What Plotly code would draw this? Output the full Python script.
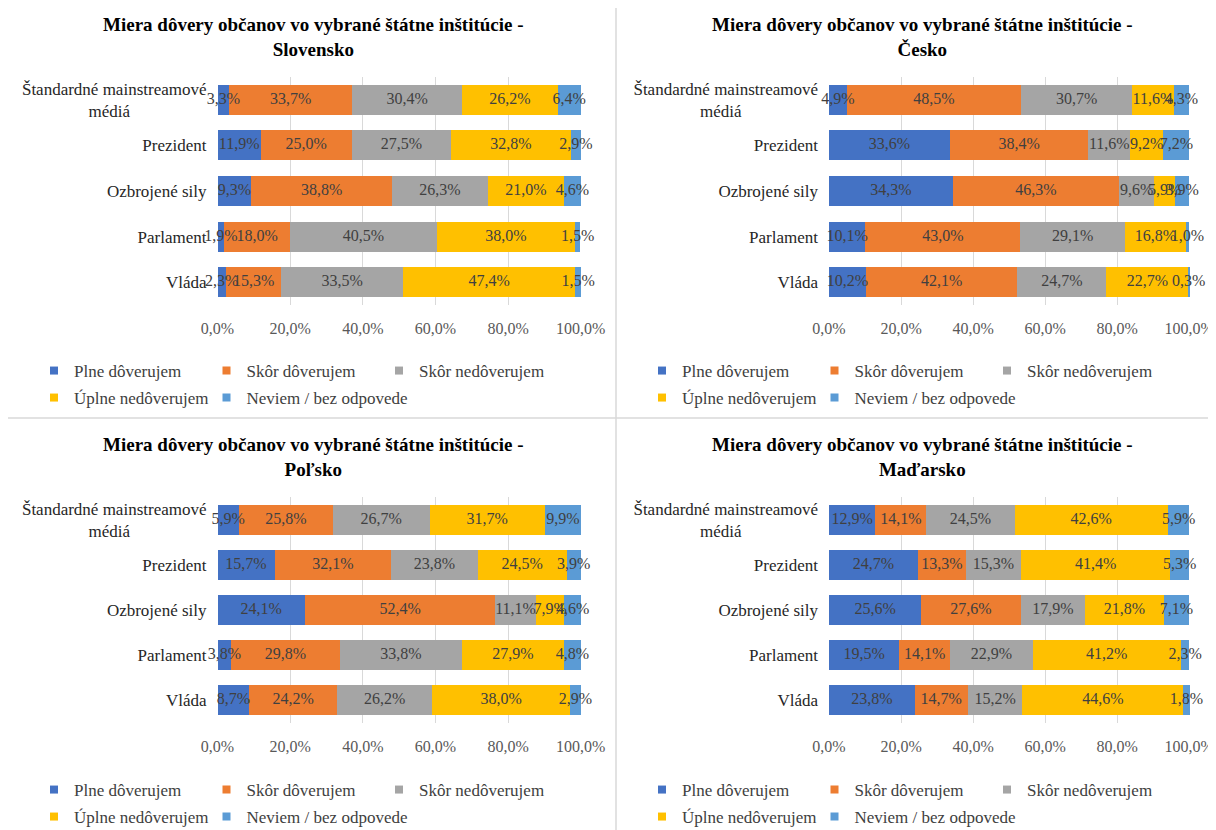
import plotly.graph_objects as go

# inštitúcie (zhora nadol)
institucie = ["Štandardné mainstreamové<br>médiá" + "\u00a0" * 18,
              "Prezident", "Ozbrojené sily", "Parlament", "Vláda"]

odpovede = ["Plne dôverujem", "Skôr dôverujem", "Skôr nedôverujem",
            "Úplne nedôverujem", "Neviem / bez odpovede"]
farby = ["#4472C4", "#ED7D31", "#A5A5A5", "#FFC000", "#5B9BD5"]

krajiny = ["Slovensko", "Česko", "Poľsko", "Maďarsko"]

# hodnoty v % pre každú odpoveď, poradie ako v institucie
slovensko = [
    [3.3, 11.9, 9.3, 1.9, 2.3],
    [33.7, 25.0, 38.8, 18.0, 15.3],
    [30.4, 27.5, 26.3, 40.5, 33.5],
    [26.2, 32.8, 21.0, 38.0, 47.4],
    [6.4, 2.9, 4.6, 1.5, 1.5],
]
cesko = [
    [4.9, 33.6, 34.3, 10.1, 10.2],
    [48.5, 38.4, 46.3, 43.0, 42.1],
    [30.7, 11.6, 9.6, 29.1, 24.7],
    [11.6, 9.2, 5.9, 16.8, 22.7],
    [4.3, 7.2, 3.9, 1.0, 0.3],
]
polsko = [
    [5.9, 15.7, 24.1, 3.8, 8.7],
    [25.8, 32.1, 52.4, 29.8, 24.2],
    [26.7, 23.8, 11.1, 33.8, 26.2],
    [31.7, 24.5, 7.9, 27.9, 38.0],
    [9.9, 3.9, 4.6, 4.8, 2.9],
]
madarsko = [
    [12.9, 24.7, 25.6, 19.5, 23.8],
    [14.1, 13.3, 27.6, 14.1, 14.7],
    [24.5, 15.3, 17.9, 22.9, 15.2],
    [42.6, 41.4, 21.8, 41.2, 44.6],
    [5.9, 5.3, 7.1, 2.3, 1.8],
]
data = [slovensko, cesko, polsko, madarsko]

# stránka má okraj 8 px, graf preto siaha od 8 px po pravý a dolný okraj okna
OFS = 8
W, H = 1208, 822
SERIF = "Liberation Serif"


def fx(px):
    return (px - OFS) / W


def fy(py):
    return 1 - (py - OFS) / H


# rozloženie panelov v pixeloch obrazovky:
# (x0, x1, ytop, ybottom, title_x, title_y, legend_y1, legend_y2, legend_x)
panely = [
    (217.5, 581.5, 77, 305, 313, 37, 371, 398, 34),
    (829, 1190, 77, 305, 922, 37, 371, 398, 642),
    (217.5, 581.5, 497, 723, 313, 457, 790, 817, 34),
    (829, 1190, 497, 723, 922, 457, 790, 817, 642),
]
KROK_LEGENDY = 172.5

fig = go.Figure()
layout = dict(
    width=W, height=H, margin=dict(l=0, r=0, t=0, b=0, autoexpand=False),
    paper_bgcolor="white", plot_bgcolor="white",
    barmode="stack", bargap=0.34, separators=", ",
    font=dict(family=SERIF, color="#404040"),
    annotations=[], shapes=[],
)

for p, (krajina, hodnoty) in enumerate(zip(krajiny, data)):
    x0, x1, yt, yb, tx, ty, ly1, ly2, lx = panely[p]
    sfx = "" if p == 0 else str(p + 1)
    xa, ya = "x" + sfx, "y" + sfx

    for i, (nazov, farba) in enumerate(zip(odpovede, farby)):
        fig.add_trace(go.Bar(
            y=institucie, x=hodnoty[i], orientation="h", name=nazov,
            marker=dict(color=farba, line=dict(width=0)),
            showlegend=False, hoverinfo="skip", xaxis=xa, yaxis=ya,
        ))

    # popisky hodnôt navrchu všetkých stĺpcov (stred každého segmentu)
    zaciatok = [0.0] * len(institucie)
    for i in range(len(odpovede)):
        stred = [z + v / 2 for z, v in zip(zaciatok, hodnoty[i])]
        zaciatok = [z + v for z, v in zip(zaciatok, hodnoty[i])]
        fig.add_trace(go.Scatter(
            x=stred, y=institucie, mode="text", customdata=hodnoty[i],
            texttemplate="%{customdata:.1f}%", textposition="middle center",
            textfont=dict(family=SERIF, size=16, color="#404040"),
            cliponaxis=False, showlegend=False, hoverinfo="skip",
            xaxis=xa, yaxis=ya,
        ))

    # legenda s malými štvorčekmi, každá položka samostatne
    for i, (nazov, farba) in enumerate(zip(odpovede, farby)):
        leg_id = p * 5 + i + 1
        leg = "legend" if leg_id == 1 else f"legend{leg_id}"
        riadok, stlpec = divmod(i, 3)
        fig.add_trace(go.Scatter(
            x=[None], y=[None], mode="markers", name=nazov,
            marker=dict(symbol="square", size=8, color=farba),
            legend=leg, xaxis=xa, yaxis=ya,
        ))
        layout[leg] = dict(
            orientation="h", x=fx(lx + stlpec * KROK_LEGENDY),
            y=fy(ly1 if riadok == 0 else ly2),
            xanchor="left", yanchor="middle",
            font=dict(family=SERIF, size=17, color="#404040"),
            bgcolor="rgba(0,0,0,0)", itemwidth=30, traceorder="normal",
        )

    layout["xaxis" + sfx] = dict(
        domain=[fx(x0), fx(x1)], anchor=ya, range=[0, 100.2], dtick=20,
        tickformat=".1f", ticksuffix="%", showgrid=True, gridcolor="#D9D9D9",
        gridwidth=1, zeroline=False, showline=False, ticks="",
        tickfont=dict(family=SERIF, size=16, color="#595959"),
        ticklabelstandoff=12, fixedrange=True,
    )
    layout["yaxis" + sfx] = dict(
        domain=[fy(yb), fy(yt)], anchor=xa, type="category",
        categoryorder="array", categoryarray=institucie, autorange="reversed",
        showgrid=False, zeroline=False, showline=False, ticks="",
        tickfont=dict(family=SERIF, size=17, color="#262626"),
        ticklabelstandoff=10, fixedrange=True,
    )
    layout["annotations"].append(dict(
        text=f"Miera dôvery občanov vo vybrané štátne inštitúcie -<br>{krajina}",
        x=fx(tx), y=fy(ty), xref="paper", yref="paper",
        xanchor="center", yanchor="middle", showarrow=False,
        font=dict(family=SERIF, size=19, color="black", weight="bold"),
    ))

# oddeľovacie čiary medzi grafmi
layout["shapes"] = [
    dict(type="line", xref="paper", yref="paper", x0=fx(616), x1=fx(616),
         y0=0, y1=1, line=dict(color="#D9D9D9", width=1.5)),
    dict(type="line", xref="paper", yref="paper", x0=0, x1=1,
         y0=fy(418), y1=fy(418), line=dict(color="#D9D9D9", width=1.5)),
]

fig.update_layout(**layout)
fig.write_html("out.html")
